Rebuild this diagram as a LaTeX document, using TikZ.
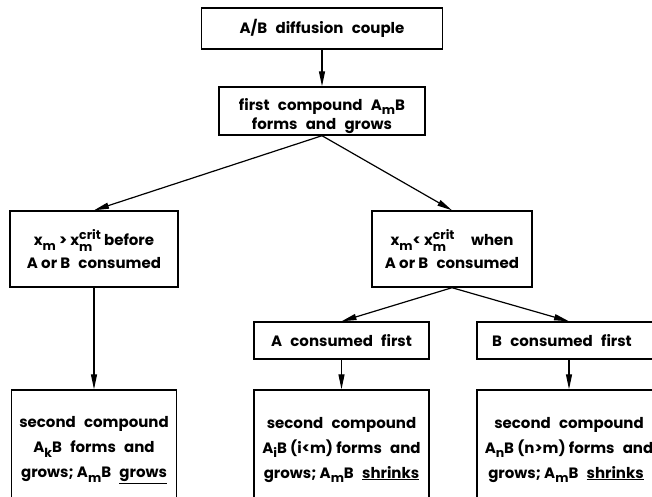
\documentclass[tikz,border=0pt]{standalone}
\usepackage{fontspec}
\setmainfont{Poppins}
\usetikzlibrary{arrows.meta}
\newcommand\sbm[1]{\raisebox{-0.32em}{\fontsize{12.5}{12.5}\selectfont #1}}
\newcommand\xcrit{x\raisebox{-0.4em}{\fontsize{12.5}{12.5}\selectfont\begin{tabular}[b]{@{}l@{}}crit\\m\end{tabular}}}
\newcommand\ws{\hspace{0.55em}}
\begin{document}
\begin{tikzpicture}[x=1pt,y=-1pt,
  box/.style={draw, line width=1.4pt, align=center, inner sep=0pt,
    font=\bfseries\fontsize{15}{19.5}\selectfont},
  tall/.style={font=\bfseries\fontsize{15}{25}\selectfont},
  arr/.style={-{Triangle[length=15pt,width=6pt]}, line width=1.2pt}]
\useasboundingbox (0,0) rectangle (652,496);
\clip (0,0) rectangle (652,496);
\node[box, minimum width=241pt, minimum height=41pt] (top) at (322,28.5) {A/B\ws diffusion\ws couple};
\node[box, minimum width=206pt, minimum height=48pt] (first) at (322,111) {\rule{0pt}{22pt}first\ws compound\ws A\sbm{m}B\\forms\ws and\ws grows};
\node[box, tall, minimum width=168pt, minimum height=76pt] (lc) at (94,249) {x\sbm{m} > \xcrit\ before\\[-2pt]A or B\ws consumed};
\node[box, tall, minimum width=160pt, minimum height=76pt] (rc) at (452,249) {x\sbm{m}< \xcrit\ws\ws when\\[-2pt]A or B\ws consumed};
\node[box, minimum width=175pt, minimum height=37pt] (ac) at (341.5,340.5) {A\ws consumed\ws first};
\node[box, minimum width=184pt, minimum height=37pt] (bc) at (569,340.5) {B\ws consumed\ws first\hspace*{14pt}};
\node[box, tall, minimum width=165pt, minimum height=120pt] (lb) at (94,450) {second\ws compound\\A\sbm{k}B\ws forms\ws and\\grows; A\sbm{m}B\ws \underline{grows}};
\node[box, tall, minimum width=175pt, minimum height=120pt] (ab) at (341.5,450) {second\ws compound\\A\sbm{i}B (i<m) forms\ws and\\grows; A\sbm{m}B\ws \underline{shrinks}};
\node[box, tall, minimum width=184pt, minimum height=120pt] (bb) at (569,450) {second\ws compound\\A\sbm{n}B (n>m) forms\ws and\\grows; A\sbm{m}B\ws \underline{shrinks}\hspace*{6pt}};
\draw[arr] (top.south) -- (first.north);
\draw[arr] (first.south) -- (lc.north);
\draw[arr] (first.south) -- (rc.north);
\draw[arr] (lc.south) -- (lb.north);
\draw[arr] (rc.south) -- (ac.north);
\draw[arr] (rc.south) -- (bc.north);
\draw[arr] (ac.south) -- (ab.north);
\draw[arr] (bc.south) -- (bb.north);
\end{tikzpicture}
\end{document}
